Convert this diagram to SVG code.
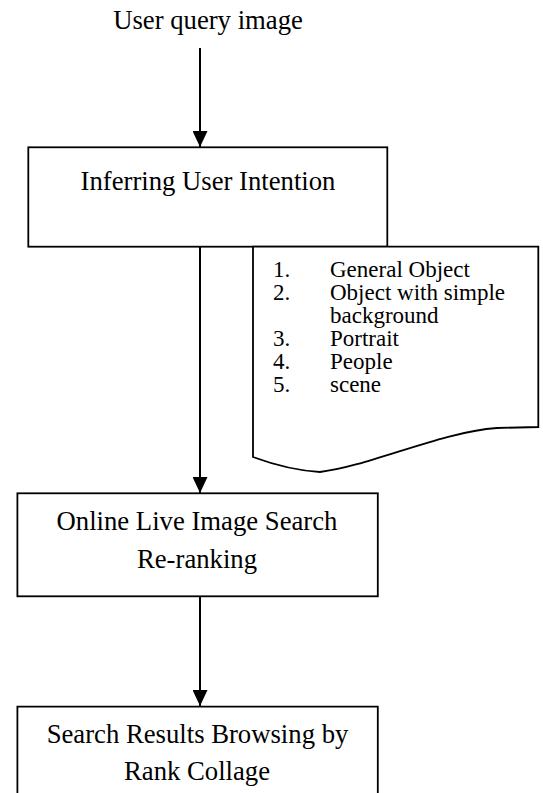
<svg xmlns="http://www.w3.org/2000/svg" width="543" height="793" viewBox="0 0 543 793">
<style>
  .box { fill: #fff; stroke: #000; stroke-width: 1.8; }
  text { font-family: 'Liberation Serif', 'DejaVu Serif', serif; fill: #000; }
  .big { font-size: 26.7px; text-anchor: middle; }
  .li { font-size: 23px; }
  .conn { stroke: #000; stroke-width: 2; fill: none; marker-end: url(#ah); }
</style>
<defs>
  <marker id="ah" markerWidth="16" markerHeight="15" refX="16" refY="7.5" orient="auto" markerUnits="userSpaceOnUse" viewBox="0 0 16 15">
    <path d="M0,0 L16,7.5 L0,15 Z" fill="#000"/>
  </marker>
</defs>
<rect width="543" height="793" fill="#fff"/>

<g id="query">
  <text class="big" x="208" y="29" font-family="Liberation Serif, serif">User query image</text>
</g>

<g id="infer">
  <rect class="box" x="28.3" y="147.3" width="359" height="99.4"/>
  <text class="big" x="208" y="190" font-family="Liberation Serif, serif">Inferring User Intention</text>
</g>

<g id="categories" font-family="Liberation Serif, serif">
  <path class="box" d="M253,246.7 H538.3 V427 L497,428 C440,432 370,466 320,472 Q288,470 253,457 Z"/>
  <text class="li" x="273" y="276.5">1.</text>
  <text class="li" x="330" y="276.5">General Object</text>
  <text class="li" x="273" y="299.5">2.</text>
  <text class="li" x="330" y="299.5">Object with simple</text>
  <text class="li" x="330" y="322.5">background</text>
  <text class="li" x="273" y="345.5">3.</text>
  <text class="li" x="330" y="345.5">Portrait</text>
  <text class="li" x="273" y="368.5">4.</text>
  <text class="li" x="330" y="368.5">People</text>
  <text class="li" x="273" y="391.5">5.</text>
  <text class="li" x="330" y="391.5">scene</text>
</g>

<g id="rerank" font-family="Liberation Serif, serif">
  <rect class="box" x="17.4" y="493.3" width="360.4" height="103"/>
  <text class="big" x="197" y="529.5">Online Live Image Search</text>
  <text class="big" x="197" y="567.5">Re-ranking</text>
</g>

<g id="browse" font-family="Liberation Serif, serif">
  <path class="box" d="M17.4,800 V706.6 H377.8 V800"/>
  <text class="big" x="197.5" y="742.5">Search Results Browsing by</text>
  <text class="big" x="197" y="779.5">Rank Collage</text>
</g>

<g id="connectors">
  <line class="conn" x1="200" y1="48" x2="200" y2="147"/>
  <line class="conn" x1="200" y1="247" x2="200" y2="493"/>
  <line class="conn" x1="200" y1="596.5" x2="200" y2="706"/>
</g>
</svg>
